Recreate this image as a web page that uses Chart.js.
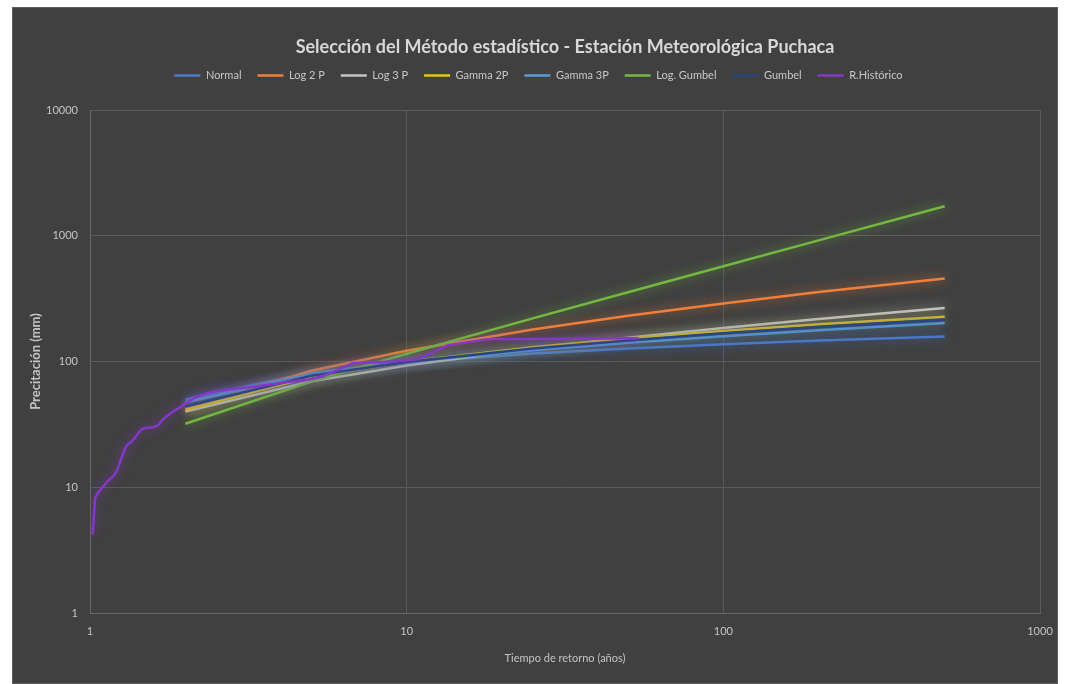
<!DOCTYPE html>
<html lang="es">
<head>
<meta charset="utf-8">
<title>Selección del Método estadístico - Estación Meteorológica Puchaca</title>
<script src="https://cdn.jsdelivr.net/npm/chart.js@4.4.1/dist/chart.umd.min.js"></script>
<style>
  html, body { margin: 0; padding: 0; background: #ffffff; }
  #frame {
    position: absolute; left: 12px; top: 7px;
    width: 1046px; height: 677px;
    background: #404040;
    box-sizing: border-box;
    border: 1px solid #5e5e5e;
  }
  #frame canvas { display: block; }
</style>
</head>
<body>
<div id="frame"><canvas id="chart"></canvas></div>
<script>
// Return periods (years) evaluated for each fitted distribution
const RETURN_PERIODS = [2, 5, 10, 25, 50, 100, 200, 500];

// Design precipitation (mm) per distribution
const NORMAL      = [50.0, 81.6, 98.0, 115.7, 127.0, 137.2, 146.6, 158.0];
const LOG_2P      = [42.0, 84.5, 121.7, 179.5, 230.8, 289.5, 356.3, 457.6];
const LOG_3P      = [40.0, 69.6, 93.0, 126.6, 154.6, 185.0, 218.0, 266.0];
const GAMMA_2P    = [41.2, 75.6, 99.5, 130.0, 152.8, 175.0, 197.8, 227.0];
const GAMMA_3P    = [47.5, 79.5, 99.0, 123.0, 141.0, 159.0, 177.0, 202.0];
const LOG_GUMBEL  = [32.0, 69.2, 115.4, 220.2, 355.6, 572.0, 918.6, 1718.0];
const GUMBEL      = [43.9, 77.0, 98.9, 126.7, 147.2, 167.6, 188.0, 214.8];

// Observed record: plotting-position return period and precipitation
const HIST_T = [1.019, 1.038, 1.059, 1.08, 1.102, 1.125, 1.149, 1.174, 1.2, 1.227,
                1.256, 1.286, 1.317, 1.35, 1.385, 1.421, 1.459, 1.5, 1.543, 1.588,
                1.636, 1.688, 1.742, 1.8, 1.862, 1.929, 2.0, 2.077, 2.16, 2.25,
                2.348, 2.455, 2.571, 2.7, 2.842, 3.0, 3.176, 3.375, 3.6, 3.857,
                4.154, 4.5, 4.909, 5.4, 6.0, 6.75, 7.714, 9.0, 10.8, 13.5,
                18.0, 27.0, 54.0];
const HIST_P = [4.2, 8.2, 9.0, 9.6, 10.2, 10.8, 11.5, 12.0, 12.8, 14.3,
                17, 20, 22, 23, 24.6, 27, 29, 29.6, 29.9, 30,
                31, 34, 36.5, 39, 41, 43.5, 46, 49, 52, 54,
                56, 57.5, 58.5, 59.5, 60.5, 61.5, 62, 63.5, 65, 66.5,
                68.5, 70, 72, 76, 85, 97, 98, 100, 104, 135,
                150, 151, 153];

// Axis decades
const X_TICKS = [1, 10, 100, 1000];
const Y_TICKS = [1, 10, 100, 1000, 10000];

const TITLE = 'Selección del Método estadístico - Estación Meteorológica Puchaca';
const X_TITLE = 'Tiempo de retorno (años)';
const Y_TITLE = 'Precitación (mm)';

const SERIES = [
  { label: 'Normal',      xs: RETURN_PERIODS, ys: NORMAL,     color: '#4a78cc' },
  { label: 'Log 2 P',     xs: RETURN_PERIODS, ys: LOG_2P,     color: '#f07f3a' },
  { label: 'Log 3 P',     xs: RETURN_PERIODS, ys: LOG_3P,     color: '#c4c4c4' },
  { label: 'Gamma 2P',    xs: RETURN_PERIODS, ys: GAMMA_2P,   color: '#e3c224' },
  { label: 'Gamma 3P',    xs: RETURN_PERIODS, ys: GAMMA_3P,   color: '#5b9bd5' },
  { label: 'Log. Gumbel', xs: RETURN_PERIODS, ys: LOG_GUMBEL, color: '#74b842' },
  { label: 'Gumbel',      xs: RETURN_PERIODS, ys: GUMBEL,     color: '#29477e' },
  { label: 'R.Histórico', xs: HIST_T,         ys: HIST_P,     color: '#8438c8' }
];

function toPoints(xs, ys) {
  return xs.map((x, i) => ({ x: x, y: ys[i] }));
}

function hexToRgba(hex, a) {
  const n = parseInt(hex.slice(1), 16);
  return `rgba(${(n >> 16) & 255}, ${(n >> 8) & 255}, ${n & 255}, ${a})`;
}

const datasets = SERIES.map((s, i) => ({
  label: s.label,
  data: toPoints(s.xs, s.ys),
  borderColor: s.color,
  backgroundColor: s.color,
  borderWidth: 2.5,
  pointRadius: 0,
  pointHoverRadius: 0,
  tension: 0,
  fill: false,
  order: SERIES.length - i   // later series drawn above earlier ones
}));

// Soft halo around each line
const glowPlugin = {
  id: 'glow',
  beforeDatasetDraw(chart, args) {
    const ds = chart.data.datasets[args.index];
    const ctx = chart.ctx;
    ctx.save();
    ctx.shadowColor = hexToRgba(ds.borderColor, 0.8);
    ctx.shadowBlur = 11;
  },
  afterDatasetDraw(chart) {
    chart.ctx.restore();
  }
};

// Title centred over the plotting area
const plotTitlePlugin = {
  id: 'plotTitle',
  afterDraw(chart) {
    const ctx = chart.ctx;
    const area = chart.chartArea;
    ctx.save();
    ctx.fillStyle = '#d8d8d8';
    ctx.font = 'bold 18px Lato, "Open Sans", sans-serif';
    ctx.textAlign = 'center';
    ctx.textBaseline = 'middle';
    ctx.fillText(TITLE, (area.left + area.right) / 2, 39);
    ctx.restore();
  }
};

// Extra room under the legend, and legend nudged toward the plot centre
const legendSpacingPlugin = {
  id: 'legendSpacing',
  beforeInit(chart) {
    const fit = chart.legend.fit;
    chart.legend.fit = function () {
      fit.call(this);
      this.height += 19;
    };
  },
  afterLayout(chart) {
    chart.legend.left += 12;
    chart.legend.right += 12;
  }
};

const tickFont = { family: 'Lato, "Open Sans", sans-serif', size: 11 };

new Chart(document.getElementById('chart'), {
  type: 'line',
  data: { datasets },
  plugins: [glowPlugin, plotTitlePlugin, legendSpacingPlugin],
  options: {
    responsive: true,
    maintainAspectRatio: false,
    animation: false,
    layout: { padding: { top: 46, right: 17, bottom: 6, left: 0 } },
    plugins: {
      title: { display: false },
      tooltip: { enabled: false },
      legend: {
        display: true,
        position: 'top',
        labels: {
          color: '#c8c8c8',
          font: { family: 'Lato, "Open Sans", sans-serif', size: 11 },
          usePointStyle: true,
          pointStyle: 'line',
          pointStyleWidth: 26,
          boxHeight: 11,
          padding: 16,
          sort: (a, b) => a.datasetIndex - b.datasetIndex
        }
      }
    },
    scales: {
      x: {
        type: 'logarithmic',
        min: 1,
        max: 1000,
        afterBuildTicks: axis => { axis.ticks = X_TICKS.map(v => ({ value: v, major: true })); },
        afterFit: axis => { axis.height = 64; },
        ticks: {
          color: '#c4c4c4',
          font: tickFont,
          padding: 3,
          maxRotation: 0,
          autoSkip: false,
          callback: v => String(v)
        },
        grid: { color: '#5a5a5a', lineWidth: 1, drawTicks: true, tickLength: 9, tickColor: 'rgba(0,0,0,0)' },
        border: { color: '#6a6a6a', width: 1 },
        title: {
          display: true,
          text: X_TITLE,
          color: '#c4c4c4',
          font: { family: 'Lato, "Open Sans", sans-serif', size: 11 },
          padding: { top: 0, bottom: 12 }
        }
      },
      y: {
        type: 'logarithmic',
        min: 1,
        max: 10000,
        afterBuildTicks: axis => { axis.ticks = Y_TICKS.map(v => ({ value: v, major: true })); },
        afterFit: axis => { axis.width = 77; },
        ticks: {
          color: '#c4c4c4',
          font: tickFont,
          padding: 12,
          autoSkip: false,
          callback: v => String(v)
        },
        grid: { color: '#5a5a5a', lineWidth: 1, drawTicks: false },
        border: { color: '#6a6a6a', width: 1 },
        title: {
          display: true,
          text: Y_TITLE,
          color: '#c4c4c4',
          font: { family: 'Lato, "Open Sans", sans-serif', size: 13, weight: 'bold' },
          padding: { top: 15, bottom: 0 }
        }
      }
    }
  }
});
</script>
</body>
</html>
